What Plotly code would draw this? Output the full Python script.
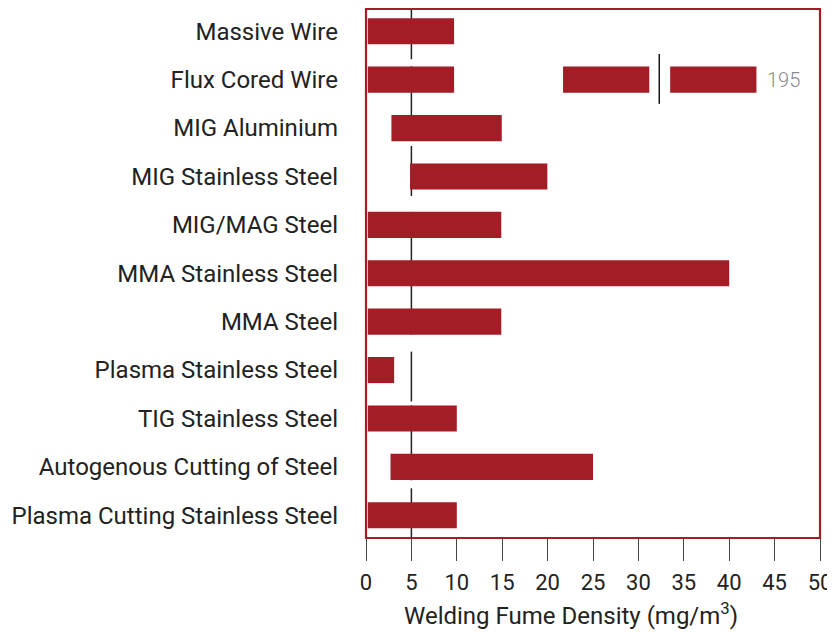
import plotly.graph_objects as go

categories = ["Massive Wire", "Flux Cored Wire", "MIG Aluminium", "MIG Stainless Steel",
              "MIG/MAG Steel", "MMA Stainless Steel", "MMA Steel", "Plasma Stainless Steel",
              "TIG Stainless Steel", "Autogenous Cutting of Steel", "Plasma Cutting Stainless Steel"]
range_start = [0.2, 0.2, 2.8, 4.85, 0.2, 0.2, 0.2, 0.2, 0.2, 2.7, 0.2]
range_end = [9.7, 9.7, 14.95, 19.97, 14.9, 40.0, 14.9, 3.1, 10.0, 25.0, 10.0]

# broken extension of the Flux Cored Wire bar (axis break, real max 195)
flux_break_start = [21.7, 33.5]
flux_break_end = [31.2, 43.0]
flux_break_pos = 32.3
flux_max_label = "195"

limit_value = 5
limit_gaps = [(0.577, 0.722), (2.268, 2.371), (3.402, 3.732), (6.268, 6.619),
              (7.65, 7.73), (9.278, 9.443)]

x_ticks = list(range(0, 51, 5))
x_title = "Welding Fume Density (mg/m<sup>3</sup>)"

RED = "#A21D25"
TEXT = "#222222"
FONT = "Roboto"

y_top, y_bot = -0.46, 10.47
idx = list(range(len(categories)))

fig = go.Figure()

# threshold line at 5 mg/m3, drawn below the bars
segs = []
cur = y_top
for g0, g1 in limit_gaps:
    segs.append((cur, g0))
    cur = g1
segs.append((cur, y_bot))
for a, b in segs:
    fig.add_shape(type="line", xref="x", yref="y", x0=limit_value, x1=limit_value,
                  y0=a, y1=b, layer="below", line=dict(color="#222222", width=1.5))

fig.add_trace(go.Bar(
    y=idx, x=[e - s for s, e in zip(range_start, range_end)], base=range_start,
    orientation="h", width=0.54, marker=dict(color=RED, line=dict(width=0)),
    showlegend=False))

fig.add_trace(go.Bar(
    y=[1] * len(flux_break_start),
    x=[e - s for s, e in zip(flux_break_start, flux_break_end)], base=flux_break_start,
    orientation="h", width=0.54, marker=dict(color=RED, line=dict(width=0)),
    showlegend=False))

fig.add_trace(go.Scatter(x=[flux_break_pos, flux_break_pos], y=[0.47, 1.5], mode="lines",
                         line=dict(color="#111111", width=1.5), hoverinfo="skip",
                         showlegend=False))

fig.add_annotation(x=flux_break_end[-1] + 0.9, y=1, text=flux_max_label, showarrow=False,
                   xanchor="left", yanchor="middle",
                   font=dict(family=FONT, size=20, color="#8a8a8a", weight=300))

# frame around the plot area
fig.add_shape(type="rect", xref="paper", yref="paper", x0=0, x1=1, y0=0, y1=1,
              layer="above", line=dict(color=RED, width=2.2))

# axis title
fig.add_annotation(xref="paper", yref="paper", x=0.4515, y=0, yshift=-76,
                   text=x_title, showarrow=False, xanchor="center", yanchor="middle",
                   font=dict(family=FONT, size=24, color=TEXT))

fig.update_layout(
    width=827, height=624,
    margin=dict(l=358, r=15, t=1, b=94),
    paper_bgcolor="white", plot_bgcolor="white",
    barmode="overlay",
    font=dict(family=FONT, color=TEXT),
    xaxis=dict(range=[0, 50], tickvals=x_ticks, ticks="outside", ticklen=22,
               tickcolor="#444444", tickwidth=1, showgrid=False, zeroline=False,
               showline=False, automargin=False, ticklabelstandoff=3,
               tickfont=dict(family=FONT, size=22, color=TEXT)),
    yaxis=dict(range=[y_bot, y_top], tickvals=idx, ticktext=categories, ticks="",
               showgrid=False, zeroline=False, showline=False,
               ticklabelstandoff=27, automargin=False,
               tickfont=dict(family=FONT, size=24, color=TEXT)),
)

fig.write_html("out.html")
